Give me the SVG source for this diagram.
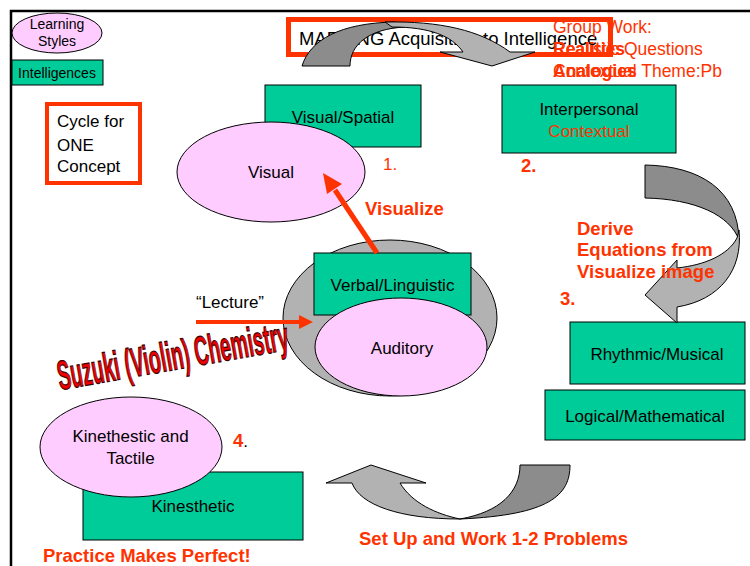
<svg xmlns="http://www.w3.org/2000/svg" width="750" height="566" viewBox="0 0 750 566">
<style>
text{font-family:"Liberation Sans",Arial,Helvetica,sans-serif;font-size:17px;fill:#000}
.r{fill:#ff3300}
.b{font-weight:bold;font-size:18.5px}
.m{text-anchor:middle}
.box{fill:#00cc99;stroke:#000;stroke-width:1}
.oval{fill:#ffccff;stroke:#000;stroke-width:1}
.dark{fill:#8c8c8c;stroke:#000;stroke-width:1;stroke-linejoin:round}
.light{fill:#b2b2b2;stroke:#000;stroke-width:1;stroke-linejoin:miter}
.pen{fill:none;stroke:#ff3300}
.tip{fill:#ff3300}
.gw{font-size:17.5px}
</style>
<rect width="750" height="566" fill="#fff"/>
<!-- slide frame -->
<path d="M11,566 V11 H750" fill="none" stroke="#000" stroke-width="2.5"/>

<!-- legend -->
<g id="legend-styles">
<ellipse class="oval" cx="57" cy="33" rx="45" ry="20"/>
<text class="m" x="57" y="29" style="font-size:14px">Learning</text>
<text class="m" x="57" y="46" style="font-size:14px">Styles</text>
</g>
<g id="legend-intelligences">
<rect class="box" x="12" y="60" width="91" height="25"/>
<text class="m" x="57" y="78" style="font-size:14px">Intelligences</text>
</g>

<g id="cycle-label">
<rect x="47" y="104" width="93" height="79" fill="#fff" stroke="#ff3300" stroke-width="4"/>
<text x="57" y="127">Cycle for</text>
<text x="57" y="151">ONE</text>
<text x="57" y="172">Concept</text>
</g>

<g id="title">
<rect x="288.5" y="19.5" width="322" height="35" fill="#fff" stroke="#ff3300" stroke-width="5"/>
<text x="299" y="45" style="font-size:18.5px">MAPPING Acquisition to Intelligence</text>
</g>

<!-- nodes -->
<g id="visual-spatial">
<rect class="box" x="265" y="85" width="156" height="62"/>
<text class="m" x="343" y="123">Visual/Spatial</text>
</g>
<g id="visual">
<ellipse class="oval" cx="271" cy="172" rx="94" ry="50"/>
<text class="m" x="271" y="178">Visual</text>
</g>

<g id="interpersonal">
<rect class="box" x="502" y="85" width="174" height="68"/>
<text class="m" x="589" y="115">Interpersonal</text>
<text class="m r" x="589" y="137">Contextual</text>
</g>

<g id="verbal-auditory">
<ellipse cx="390" cy="318" rx="107" ry="78" fill="#b2b2b2" stroke="#000" stroke-width="1"/>
<rect class="box" x="314" y="253" width="157" height="62"/>
<text class="m" x="392.5" y="291">Verbal/Linguistic</text>
<ellipse class="oval" cx="401" cy="347" rx="86" ry="49"/>
<text class="m" x="402" y="354">Auditory</text>
</g>

<g id="rhythmic">
<rect class="box" x="570" y="322" width="175" height="62"/>
<text class="m" x="657" y="360">Rhythmic/Musical</text>
</g>
<g id="logical">
<rect class="box" x="545" y="390" width="200" height="50"/>
<text class="m" x="645" y="422">Logical/Mathematical</text>
</g>

<g id="kinesthetic">
<rect class="box" x="83" y="472" width="220" height="68"/>
<text class="m" x="193" y="512">Kinesthetic</text>
<ellipse class="oval" cx="131" cy="447" rx="91" ry="50"/>
<text class="m" x="130.5" y="442">Kinethestic and</text>
<text class="m" x="130.5" y="464">Tactile</text>
</g>

<!-- connectors -->
<g id="connectors">
<!-- curved arrow 1 to 2 -->
<path class="dark" d="M302,66 C310,40 340,23 395,22 L405,27 C368,29 350,45 350,66 Z"/>
<path class="light" d="M385,22 C440,21 480,30 510,52 L535,52 L492,66 L440,52 L463,52 C452,36 430,27 392,27 Z"/>
<!-- curved arrow 2 to 3 -->
<path class="dark" d="M645,165 C700,166 738,190 739,240 C730,215 695,199 645,198 Z"/>
<path class="light" d="M739,230 C743,270 720,300 677,307 L677,323 L645,295 L677,260 L677,268 C705,265 728,255 737,238 Z"/>
<!-- curved arrow 3 to 4 -->
<path class="dark" d="M520,465 L570,465 C570,495 550,515 460,519 C500,512 520,492 520,465 Z"/>
<path class="light" d="M460,519 C400,519 360,505 352,483 L326,483 L371,465 L426,483 L400,483 C412,503 436,514 460,519 Z"/>
<!-- Visualize arrow -->
<line class="pen" x1="377" y1="253" x2="335" y2="190" stroke-width="5"/>
<polygon class="tip" points="323,173 342,184 327,194"/>
<!-- Lecture arrow -->
<line class="pen" x1="196" y1="322" x2="301" y2="322" stroke-width="4"/>
<polygon class="tip" points="299,315 313,322 299,329"/>
</g>

<!-- labels -->
<text class="r" x="383" y="170">1.</text>
<text class="r b" x="365" y="215">Visualize</text>
<text class="r b" x="521" y="172">2.</text>
<text class="r b" x="577" y="235">Derive</text>
<text class="r b" x="577" y="256">Equations from</text>
<text class="r b" x="577" y="278">Visualize image</text>
<text class="r b" x="560" y="305">3.</text>
<text x="196" y="308">“Lecture”</text>
<text class="b" x="233" y="447"><tspan class="r">4</tspan><tspan style="font-weight:normal;font-size:17px">.</tspan></text>
<text class="r b" x="359" y="545">Set Up and Work 1-2 Problems</text>
<text class="r b" x="43" y="562">Practice Makes Perfect!</text>

<text x="60" y="390" transform="rotate(-10 60 390)" textLength="234" lengthAdjust="spacingAndGlyphs" style="font-size:41px;font-weight:bold;fill:#ee0000;stroke:#3a0000;stroke-width:1.2">Suzuki (Violin) Chemistry</text>

<g id="group-work">
<text class="r gw" x="553" y="33">Group Work:</text>
<text class="r gw" x="553" y="55">Realistic Questions</text>
<text class="r gw" x="553" y="77">Contextual Theme:Pb</text>
<text class="r gw" x="553" y="55" style="font-weight:bold">Realities</text>
<text class="r gw" x="553" y="77" style="font-weight:bold">Analogies</text>
</g>
</svg>
